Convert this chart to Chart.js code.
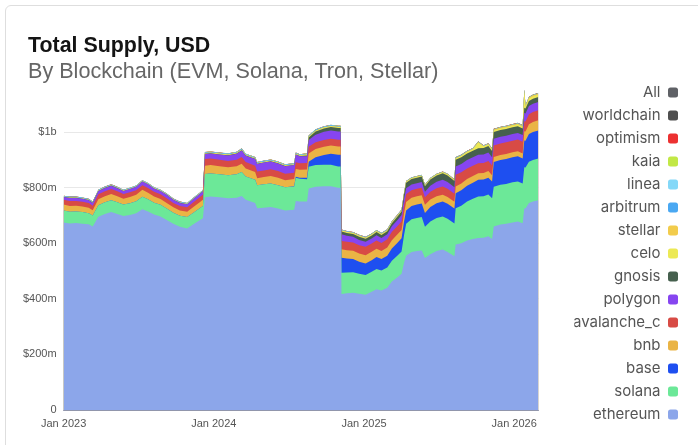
<!DOCTYPE html>
<html>
<head>
<meta charset="utf-8">
<title>Total Supply, USD</title>
<script src="https://cdn.jsdelivr.net/npm/chart.js@4.4.1/dist/chart.umd.min.js"></script>
<style>
  html, body { margin: 0; padding: 0; background: #fff; }
  #wrap { position: relative; width: 698px; height: 445px; overflow: hidden; }
  #card { position: absolute; left: 5px; top: 5px; width: 720px; height: 470px; border: 1.5px solid #dedede; border-radius: 6px; box-sizing: border-box; }
  canvas { position: absolute; left: 0; top: 0; }
  .head { position: absolute; left: 28px; font-family: 'Liberation Sans', Arial, sans-serif; white-space: nowrap; line-height: 1; z-index: 2; }
  #title { top: 35.2px; font-size: 21.4px; font-weight: bold; color: #141414; }
  #subtitle { top: 60px; font-size: 21.6px; color: #666; }
</style>
</head>
<body>
<div id="wrap">
  <div id="card"></div>
  <canvas id="supplyChart" width="698" height="445"></canvas>
  <div class="head" id="title">Total Supply, USD</div>
  <div class="head" id="subtitle">By Blockchain (EVM, Solana, Tron, Stellar)</div>
</div>
<script>
// Sample dates (values in $ millions)
const dates = [
  '2023-01-01','2023-01-16','2023-02-01','2023-02-15','2023-03-01','2023-03-11','2023-03-25','2023-04-10','2023-04-25','2023-05-10','2023-05-25','2023-06-10',
  '2023-06-25','2023-07-10','2023-07-24','2023-08-08','2023-08-24','2023-09-08','2023-09-24','2023-10-10','2023-10-28','2023-11-12','2023-11-28','2023-12-05',
  '2023-12-10','2023-12-24','2024-01-15','2024-02-05','2024-02-25','2024-03-08','2024-03-18','2024-04-10','2024-04-15','2024-05-01','2024-05-18','2024-06-05',
  '2024-06-22','2024-07-14','2024-07-18','2024-07-28',
  '2024-08-15','2024-08-19','2024-09-05','2024-09-25','2024-10-12','2024-10-30','2024-11-05',
  '2024-11-07','2024-11-20','2024-12-05','2024-12-20','2025-01-05','2025-01-20','2025-02-01','2025-02-12','2025-02-25','2025-03-08','2025-03-22','2025-04-01',
  '2025-04-07','2025-04-12','2025-04-25','2025-05-08','2025-05-20','2025-05-28','2025-06-10','2025-06-25','2025-07-10','2025-07-22','2025-08-08',
  '2025-08-11','2025-08-25','2025-09-08','2025-09-22','2025-10-05','2025-10-18','2025-10-30','2025-11-08',
  '2025-11-12','2025-11-28','2025-12-12','2025-12-28','2026-01-10','2026-01-22',
  '2026-01-26','2026-01-29','2026-02-06','2026-02-15','2026-02-27'
];

const ethereum = [
  675,671,673,670,668,660,695,705,712,705,698,702,708,722,714,703,696,684,670,659,653,668,684,690,
  765,768,765,762,764,770,756,745,726,728,730,725,718,720,752,750,
  750,797,803,805,805,800,800,
  417,420,422,418,415,425,434,430,440,462,478,490,
  530,555,568,572,574,547,560,572,577,568,553,
  595,600,610,615,619,620,625,615,
  660,667,670,675,678,672,
  726,725,745,750,755
];
const solana = [
  43,42,41,42,40,40,42,42,43,42,41,42,43,45,44,43,42,41,40,40,41,42,43,44,
  84,83,83,83,84,86,84,83,83,84,85,84,83,84,84,82,
  80,78,78,77,77,76,76,
  77,75,74,72,71,72,73,72,73,75,78,80,
  100,115,118,119,120,112,118,119,119,120,118,
  131,135,140,145,149,149,150,147,
  143,143,143,144,144,143,
  147,147,148,149,150
];
const base = [
  0,0,0,0,0,0,0,0,0,0,0,0,0,0,0,0,0,0,0,0,0,0,0,0,
  0,0,0,0,0,0,0,0,0,0,0,0,0,1,3,4,
  6,18,28,35,40,42,42,
  54,50,47,43,41,42,43,41,42,44,46,48,
  48,48,48,48,49,50,52,53,54,54,54,
  54,56,57,58,60,60,61,60,
  89,89,90,90,91,90,
  97,97,100,101,101
];
const bnb = [
  21,21,21,20,20,19,21,22,22,22,21,22,23,25,24,22,21,20,19,19,19,20,21,22,
  30,30,29,28,29,30,29,28,25,26,27,27,26,26,28,28,
  29,30,30,30,30,30,30,
  30,30,30,30,30,30,30,29,30,30,30,30,
  30,30,30,30,30,29,27,25,24,24,24,
  24,24,24,24,24,24,24,23,
  18,18,18,18,18,18,
  33,33,35,36,36
];
const avalanche_c = [
  17,18,17,17,17,16,18,18,18,18,17,17,17,17,17,17,17,17,16,16,16,17,18,18,
  24,24,23,23,23,24,23,23,24,24,24,24,23,23,24,24,
  24,24,24,24,24,24,24,
  30,30,30,30,30,30,30,29,29,30,30,30,
  29,28,27,27,27,27,28,29,30,30,29,
  42,40,38,37,36,36,36,35,
  42,42,42,42,42,42,
  36,36,36,36,36
];
const polygon = [
  10,11,11,11,10,10,12,12,12,11,11,12,12,13,13,12,12,12,11,11,11,12,12,13,
  18,18,19,20,22,24,23,24,27,28,28,27,27,27,28,25,
  24,24,27,30,30,30,30,
  24,22,20,19,18,18,19,18,18,20,22,24,
  23,22,20,20,20,20,22,23,24,24,23,
  30,30,30,30,30,30,30,29,
  24,24,24,24,24,24,
  30,29,30,30,30
];
const gnosis = [
  0.3,0.3,0.3,0.3,0.3,0.3,0.3,0.3,0.3,0.3,0.3,0.3,0.3,0.3,0.3,0.3,0.3,0.3,0.3,0.3,0.3,0.3,0.3,0.3,
  0.5,0.5,0.5,0.5,0.5,0.5,0.5,0.5,0.5,0.5,0.5,0.5,0.5,0.5,0.5,0.5,
  3,9,12,12,12,13,13,
  10,10,10,11,11,11,11,11,11,11,12,12,
  16,20,20,20,20,20,22,23,24,24,23,
  24,24,24,24,24,24,24,23,
  24,24,24,24,24,24,
  18,18,18,18,18
];
const celo = [
  1,1,1,1,1,1,1,1,1,1,1,1,1,1,1,1,1,1,1,1,1,1,1,1,
  2,2,2,2,2,2,2,2,2,2,2,2,2,2,2,2,
  3,3,3,3,3,3,3,
  3,3,3,3,3,3,3,3,3,3,3,3,
  3,3,3,3,3,3,3,3,3,3,3,
  5,5,5,5,20,5,5,5,
  6,6,6,6,6,6,
  60,6,8,8,8
];
const stellar = [
  0.5,0.5,0.5,0.5,0.5,0.5,0.5,0.5,0.5,0.5,0.5,0.5,0.5,0.5,0.5,0.5,0.5,0.5,0.5,0.5,0.5,0.5,0.5,0.5,
  1,1,1,1,1,1,1,1,1,1,1,1,1,1,1,1,
  1,1,1,1,1,1,1,
  1.5,1.5,1.5,1.5,1.5,1.5,1.5,1.5,1.5,1.5,1.5,1.5,
  1,1,1,1,1,1,1,1,1,1,1,
  2,2,2,2,2,2,2,2,
  3,3,3,3,3,3,
  4,3,4,4,4
];
const arbitrum = [
  2,2,2,2,2,2,2,2,2,2,2,2,2,2,2,2,2,2,2,2,2,2,2,2,
  2,2,2,2,2,2,2,2,2,2,2,2,2,2,2,2,
  2,2,2,2,2,2,2,
  1.5,1.5,1.5,1.5,1.5,1.5,1.5,1.5,1.5,1.5,1.5,1.5,
  1,1,1,1,1,1,1,1,1,1,1,
  1,1,1,1,1,1,1,1,
  1,1,1,1,1,1,
  1,1,1,1,1
];
const linea = [
  0.5,0.5,0.5,0.5,0.5,0.5,0.5,0.5,0.5,0.5,0.5,0.5,0.5,0.5,0.5,0.5,0.5,0.5,0.5,0.5,0.5,0.5,0.5,0.5,
  1,1,1,1,1,1,1,1,1,1,1,1,1,1,1,1,
  1,1,1,1,1,1,1,
  0.5,0.5,0.5,0.5,0.5,0.5,0.5,0.5,0.5,0.5,0.5,0.5,
  0.3,0.3,0.3,0.3,0.3,0.3,0.3,0.3,0.3,0.3,0.3,
  0.5,0.5,0.5,0.5,0.5,0.5,0.5,0.5,
  0.5,0.5,0.5,0.5,0.5,0.5,
  0.5,0.5,0.5,0.5,0.5
];
const kaia = [
  0.2,0.2,0.2,0.2,0.2,0.2,0.2,0.2,0.2,0.2,0.2,0.2,0.2,0.2,0.2,0.2,0.2,0.2,0.2,0.2,0.2,0.2,0.2,0.2,
  0.3,0.3,0.3,0.3,0.3,0.3,0.3,0.3,0.3,0.3,0.3,0.3,0.3,0.3,0.3,0.3,
  0.3,0.3,0.3,0.3,0.3,0.3,0.3,
  0.3,0.3,0.3,0.3,0.3,0.3,0.3,0.3,0.3,0.3,0.3,0.3,
  0.3,0.3,0.3,0.3,0.3,0.3,0.3,0.3,0.3,0.3,0.3,
  0.5,0.5,0.5,0.5,0.5,0.5,0.5,0.5,
  0.5,0.5,0.5,0.5,0.5,0.5,
  0.5,0.5,0.5,0.5,0.5
];
const optimism = [
  0.3,0.3,0.3,0.3,0.3,0.3,0.3,0.3,0.3,0.3,0.3,0.3,0.3,0.3,0.3,0.3,0.3,0.3,0.3,0.3,0.3,0.3,0.3,0.3,
  0.3,0.3,0.3,0.3,0.3,0.3,0.3,0.3,0.3,0.3,0.3,0.3,0.3,0.3,0.3,0.3,
  0.3,0.3,0.3,0.3,0.3,0.3,0.3,
  0.3,0.3,0.3,0.3,0.3,0.3,0.3,0.3,0.3,0.3,0.3,0.3,
  0.3,0.3,0.3,0.3,0.3,0.3,0.3,0.3,0.3,0.3,0.3,
  0.3,0.3,0.3,0.3,0.3,0.3,0.3,0.3,
  0.5,0.5,0.5,0.5,0.5,0.5,
  0.5,0.5,0.5,0.5,0.5
];
const worldchain = [
  0,0,0,0,0,0,0,0,0,0,0,0,0,0,0,0,0,0,0,0,0,0,0,0,
  0.2,0.2,0.2,0.2,0.2,0.2,0.2,0.2,0.2,0.2,0.2,0.2,0.2,0.2,0.2,0.2,
  0.2,0.2,0.2,0.2,0.2,0.2,0.2,
  0.2,0.2,0.2,0.2,0.2,0.2,0.2,0.2,0.2,0.2,0.2,0.2,
  0.3,0.3,0.3,0.3,0.3,0.3,0.3,0.3,0.3,0.3,0.3,
  0.5,0.5,0.5,0.5,0.5,0.5,0.5,0.5,
  0.5,0.5,0.5,0.5,0.5,0.5,
  0.5,0.5,0.5,0.5,0.5
];

// Stack order, bottom to top ("All" only shows up in the legend)
const seriesNames = ['ethereum','solana','base','bnb','avalanche_c','polygon','gnosis','celo','stellar','arbitrum','linea','kaia','optimism','worldchain'];
const seriesValues = [ethereum, solana, base, bnb, avalanche_c, polygon, gnosis, celo, stellar, arbitrum, linea, kaia, optimism, worldchain];
const seriesColors = ['#8ca6ea','#6ce898','#1e4ff0','#eab445','#d84b45','#8645f0','#46604e','#ece955','#f2cc4c','#4aa8f2','#84d8f8','#c2e846','#ec3131','#4f4f4f'];

const xTickMonths = [0, 12, 24, 36];
const xTickLabels = ['Jan 2023', 'Jan 2024', 'Jan 2025', 'Jan 2026'];
const yTickValues = [0, 200, 400, 600, 800, 1000];
const yTickLabels = ['0', '$200m', '$400m', '$600m', '$800m', '$1b'];

// months since Jan 2023 (fractional) so the x axis is a plain linear scale
function monthIndex(s) {
  const [y, m, d] = s.split('-').map(Number);
  const dim = new Date(y, m, 0).getDate();
  return (y - 2023) * 12 + (m - 1) + (d - 1) / dim;
}

const xs = dates.map(monthIndex);

function buildChart() {
  const datasets = seriesNames.map((name, i) => ({
    label: name,
    data: seriesValues[i].map((v, j) => ({ x: xs[j], y: v })),
    backgroundColor: seriesColors[i],
    borderColor: seriesColors[i],
    borderWidth: 0,
    pointRadius: 0,
    tension: 0,
    fill: 'origin'
  }));
  datasets.push({ label: 'All', data: [], backgroundColor: '#5f6166', borderColor: '#5f6166', borderWidth: 0, pointRadius: 0 });

  const axisFont = { family: "'Liberation Sans', Arial, sans-serif", size: 11 };

  new Chart(document.getElementById('supplyChart').getContext('2d'), {
    type: 'line',
    data: { datasets },
    options: {
      responsive: false,
      animation: false,
      devicePixelRatio: 1,
      layout: { padding: { top: 62, right: 12, bottom: 0, left: 16 } },
      plugins: {
        tooltip: { enabled: false },
        legend: {
          position: 'right',
          reverse: true,
          rtl: true,
          textDirection: 'ltr',
          labels: {
            boxWidth: 10,
            boxHeight: 10,
            padding: 8,
            color: '#555',
            useBorderRadius: true,
            borderRadius: 2.5,
            font: { family: 'Inter', size: 15 }
          }
        }
      },
      scales: {
        x: {
          type: 'linear',
          min: 0,
          max: xs[xs.length - 1],
          grid: { display: false, drawTicks: false },
          border: { display: true, color: 'rgba(40,50,100,0.45)', z: 1 },
          afterBuildTicks: (s) => { s.ticks = xTickMonths.map(v => ({ value: v })); },
          afterFit: (s) => { s.height = 35; },
          ticks: {
            padding: 7,
            maxRotation: 0,
            color: '#555',
            font: axisFont,
            callback: (v) => xTickLabels[xTickMonths.indexOf(v)]
          }
        },
        y: {
          stacked: true,
          min: 0,
          max: 1252,
          grid: { color: '#e8e8e8', drawTicks: false },
          border: { display: false },
          afterBuildTicks: (s) => { s.ticks = yTickValues.map(v => ({ value: v })); },
          ticks: {
            padding: 7,
            color: '#555',
            font: axisFont,
            callback: (v) => yTickLabels[yTickValues.indexOf(v)]
          }
        },
        gap: {
          position: 'right',
          grid: { display: false, drawTicks: false },
          border: { display: false },
          ticks: { display: false },
          afterFit: (s) => { s.width = 36; }
        }
      }
    }
  });
}

// make sure the legend font is measured with the real face
Promise.all([
  document.fonts.load('15px Inter'),
  document.fonts.load("11px 'Liberation Sans'")
]).catch(() => {}).then(buildChart);
</script>
</body>
</html>
